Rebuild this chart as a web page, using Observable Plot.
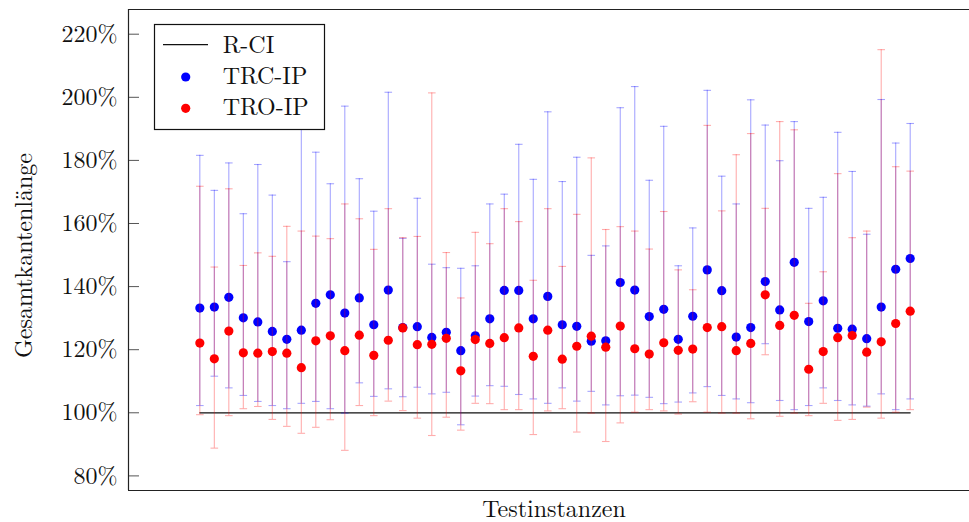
<!DOCTYPE html>
<html><head><meta charset="utf-8">
<script src="https://cdn.jsdelivr.net/npm/d3@7"></script>
<script src="https://cdn.jsdelivr.net/npm/@observablehq/plot@0.6"></script>
<style>body{margin:0;background:#fff} svg{display:block}</style>
</head><body><div id="chart"></div>
<script>
const instances = [1,2,3,4,5,6,7,8,9,10,11,12,13,14,15,16,17,18,19,20,21,22,23,24,25,26,27,28,29,30,31,32,33,34,35,36,37,38,39,40,41,42,43,44,45,46,47,48,49,50];
const trcMean = [133.2,133.5,136.6,130.1,128.8,125.8,123.3,126.2,134.7,137.4,131.6,136.4,127.9,138.9,127.0,127.3,123.9,125.5,119.7,124.4,129.8,138.8,138.8,129.8,136.9,127.9,127.4,122.7,122.8,141.3,138.9,130.5,132.8,123.3,130.6,145.3,138.7,124.0,127.0,141.6,132.6,147.7,128.9,135.5,126.8,126.5,123.5,133.5,145.5,148.9];
const trcLow = [102.3,111.6,107.9,105.5,103.6,102.3,101.3,103.0,103.6,101.3,99.9,109.5,105.2,107.6,105.1,108.1,106.0,106.5,96.2,105.3,108.6,108.4,105.8,104.4,103.0,107.9,103.7,106.8,102.5,105.4,105.6,104.9,102.9,103.4,106.3,108.3,105.5,104.4,103.2,121.9,103.9,101.0,102.3,107.9,103.9,102.5,102.1,106.0,101.0,104.4];
const trcHigh = [181.6,170.5,179.2,163.1,178.7,169.0,147.9,195.0,182.6,172.6,197.2,174.2,163.9,201.6,155.3,168.0,147.1,146.0,145.8,146.6,166.2,169.3,185.1,174.0,195.4,173.3,181.0,149.9,152.9,196.7,203.4,173.7,190.8,146.6,158.6,202.2,175.0,166.2,199.2,191.2,179.9,192.3,164.8,168.3,188.9,176.5,156.6,199.3,185.5,191.7];
const troMean = [122.1,117.1,125.9,119.0,118.9,119.4,118.9,114.3,122.8,124.4,119.7,124.6,118.2,123.0,126.9,121.6,121.7,123.6,113.3,123.2,122.0,123.8,126.9,117.9,126.2,117.0,121.1,124.3,120.8,127.5,120.3,118.6,122.2,119.8,120.2,127.0,127.3,119.7,122.0,137.4,127.7,130.9,113.8,119.4,123.8,124.5,119.2,122.5,128.3,132.2];
const troLow = [99.4,88.8,99.1,101.3,102.0,97.9,95.7,93.5,95.4,97.8,88.1,102.3,99.1,103.7,100.7,98.3,92.8,98.6,94.5,103.0,102.9,101.0,101.0,93.1,100.6,101.3,93.9,99.9,90.9,96.8,100.2,101.0,100.6,99.6,103.5,100.2,99.9,99.9,98.1,118.4,98.9,99.9,99.1,103.0,97.6,97.9,101.8,98.3,100.2,101.0];
const troHigh = [171.8,146.2,171.0,146.7,150.7,149.6,159.1,157.6,156.0,155.2,166.2,161.5,151.8,164.7,155.5,155.9,201.4,150.8,136.4,157.2,153.6,164.7,160.6,142.0,164.7,146.4,162.9,180.8,158.1,159.0,157.6,151.9,163.8,145.3,139.0,191.1,164.0,181.8,188.5,164.8,192.3,189.7,134.7,144.7,175.8,155.5,157.6,215.1,178.0,176.6];
const rciValue = [100,100,100,100,100,100,100,100,100,100,100,100,100,100,100,100,100,100,100,100,100,100,100,100,100,100,100,100,100,100,100,100,100,100,100,100,100,100,100,100,100,100,100,100,100,100,100,100,100,100];
const yTicks = [80,100,120,140,160,180,200,220];
const seriesNames = ["R-CI","TRC-IP","TRO-IP"];
const seriesColors = ["#111","blue","red"];
const xLabel = "Testinstanzen";
const yLabel = "Gesamtkantenlänge";

const rci = instances.map((i,k)=>({i, v: rciValue[k]}));
const trc = instances.map((i,k)=>({i, mean: trcMean[k], lo: trcLow[k], hi: trcHigh[k]}));
const tro = instances.map((i,k)=>({i, mean: troMean[k], lo: troLow[k], hi: troHigh[k]}));

const W = 969, H = 522, ML = 128, MT = 9, MB = 32, MR = 0;
const FONT = "'Latin Modern Roman','CMU Serif','Liberation Serif',serif";
const xDomain = [-3.92, 54.09];
const yDomain = [75.37, 227.83];
const capSymbol = {draw(ctx, size){const r = Math.sqrt(size/Math.PI); ctx.moveTo(-r,0); ctx.lineTo(r,0);}};

function errMarks(data, color, op){
  return [
    Plot.ruleX(data, {x:"i", y1:"lo", y2:"hi", stroke:color, strokeOpacity:op, strokeWidth:1.1}),
    Plot.dot(data, {x:"i", y:"lo", symbol:capSymbol, r:3.8, fill:"none", stroke:color, strokeOpacity:op, strokeWidth:1.1}),
    Plot.dot(data, {x:"i", y:"hi", symbol:capSymbol, r:3.8, fill:"none", stroke:color, strokeOpacity:op, strokeWidth:1.1}),
    Plot.dot(data, {x:"i", y:"mean", r:4.6, fill:color, stroke:"none"})
  ];
}

const svg = Plot.plot({
  width: W, height: H, marginLeft: ML, marginTop: MT, marginBottom: MB, marginRight: MR,
  style: {fontFamily: FONT, fontSize: "24px", color: "#111", background: "white"},
  x: {domain: xDomain, axis: null},
  y: {domain: yDomain, axis: null},
  marks: [
    Plot.axisY(yTicks, {tickSize: 0, tickPadding: 11, tickFormat: d => d + "%", label: null, fontSize: 24}),
    Plot.tickY(yTicks, {y: d => d, insetRight: W - ML - MR - 11, stroke: "#555", strokeWidth: 1}),
    Plot.ruleX([xDomain[0]], {stroke: "#222", strokeWidth: 1.2}),
    Plot.ruleY([yDomain[0]], {stroke: "#222", strokeWidth: 1.2}),
    Plot.ruleY([yDomain[1]], {stroke: "#222", strokeWidth: 1.2}),
    Plot.lineY(rci, {x: "i", y: "v", stroke: seriesColors[0], strokeWidth: 1.2}),
    ...errMarks(trc, seriesColors[1], 0.35),
    ...errMarks(tro, seriesColors[2], 0.32)
  ]
});

const s = d3.select(svg);
// axis labels
s.append("text").attr("x", 554).attr("y", 516.5).attr("text-anchor", "middle")
  .attr("font-family", FONT).attr("font-size", 24).attr("fill", "#111").text(xLabel);
s.append("text").attr("transform", "translate(32,255.5) rotate(-90)").attr("text-anchor", "middle")
  .attr("font-family", FONT).attr("font-size", 24).attr("fill", "#111").text(yLabel);
// legend
const lg = s.append("g").attr("font-family", FONT).attr("font-size", 24).attr("fill", "#111").attr("text-anchor", "start");
lg.append("rect").attr("x", 154.5).attr("y", 24.5).attr("width", 170).attr("height", 105)
  .attr("fill", "white").attr("stroke", "#111").attr("stroke-width", 1.2);
lg.append("line").attr("x1", 163).attr("x2", 208).attr("y1", 44.7).attr("y2", 44.7)
  .attr("stroke", seriesColors[0]).attr("stroke-width", 1.2);
lg.append("circle").attr("cx", 185.7).attr("cy", 77).attr("r", 4.6).attr("fill", seriesColors[1]);
lg.append("circle").attr("cx", 185.7).attr("cy", 108.3).attr("r", 4.6).attr("fill", seriesColors[2]);
[52.5, 84, 115].forEach((yy, k) => {
  lg.append("text").attr("x", 222.7).attr("y", yy).attr("text-anchor", "start").text(seriesNames[k]);
});

document.getElementById("chart").appendChild(svg);
</script>
</body></html>
